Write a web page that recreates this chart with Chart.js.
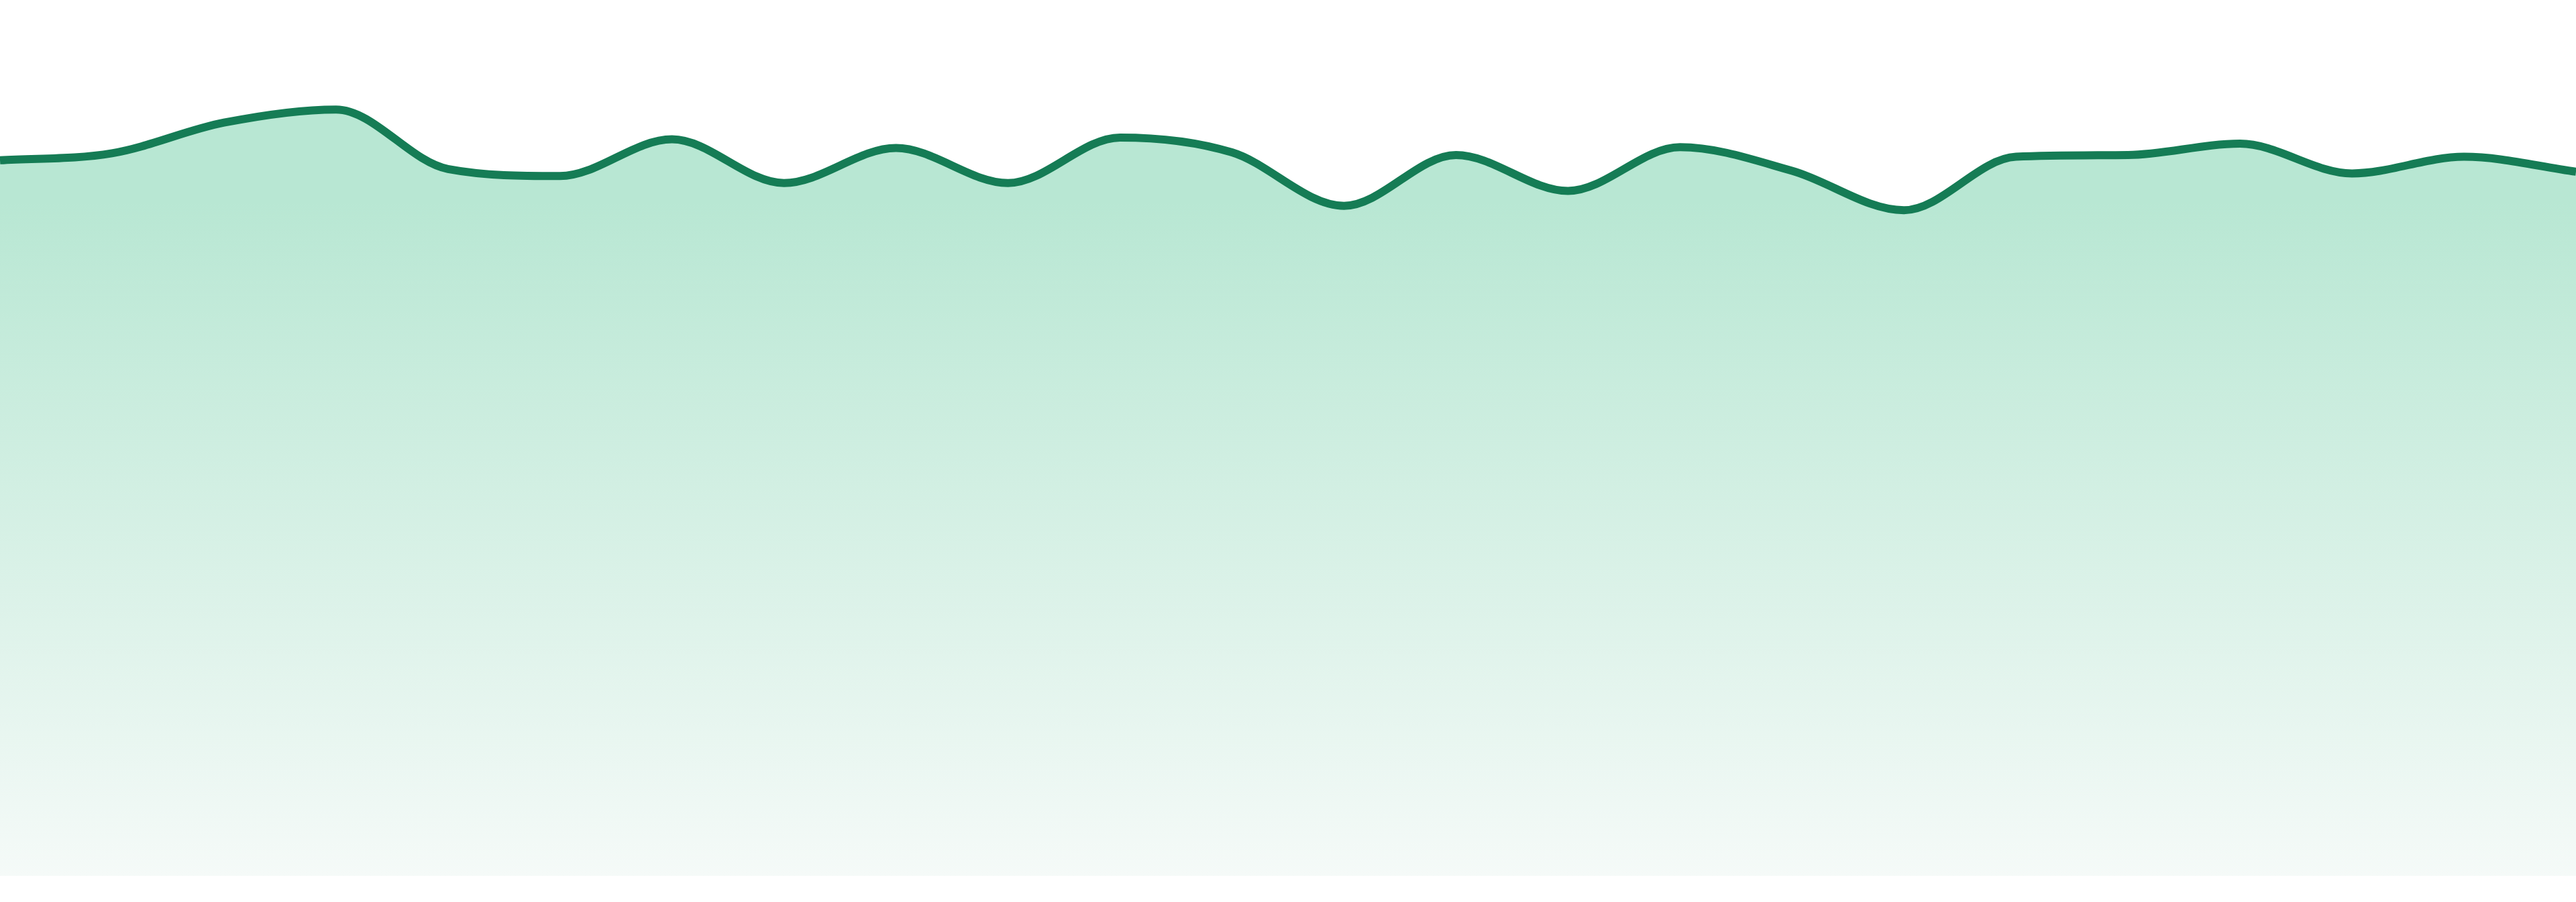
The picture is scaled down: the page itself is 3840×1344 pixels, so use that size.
<!DOCTYPE html>
<html>
<head>
<meta charset="utf-8">
<script src="https://cdn.jsdelivr.net/npm/chart.js@4/dist/chart.umd.min.js"></script>
<style>
    html, body { margin: 0; padding: 0; background: #ffffff; }
    #wrap { position: relative; width: 3840px; height: 1344px; }
</style>
</head>
<body>
<div id="wrap"><canvas id="areaChart"></canvas></div>
<script>
// 24 samples, no axes shown in the picture
const labels = ['1', '2', '3', '4', '5', '6', '7', '8', '9', '10', '11', '12',
                '13', '14', '15', '16', '17', '18', '19', '20', '21', '22', '23', '24'];
const values = [81.7, 82.5, 86.0, 87.5, 80.7, 79.9, 84.1, 79.1, 83.1, 79.1, 84.3, 82.6,
                76.5, 82.3, 78.2, 83.2, 80.5, 76.0, 82.1, 82.3, 83.6, 80.2, 82.1, 80.4];

const yMin = 0;
const yMax = 100;

function fillGradient(context) {
    const area = context.chart.chartArea;
    if (!area) return '#b8e7d3';
    const ctx = context.chart.ctx;
    // solid band under the line, fading towards the base
    const g = ctx.createLinearGradient(0, area.top + area.height * 0.23, 0, area.bottom);
    g.addColorStop(0, '#b8e7d3');
    g.addColorStop(1, '#f5faf8');
    return g;
}

new Chart(document.getElementById('areaChart').getContext('2d'), {
    type: 'line',
    data: {
        labels: labels,
        datasets: [{
            data: values,
            borderColor: '#157c55',
            borderWidth: 12,
            backgroundColor: fillGradient,
            fill: 'start',
            cubicInterpolationMode: 'monotone',
            pointRadius: 0,
            pointHoverRadius: 0
        }]
    },
    options: {
        responsive: true,
        maintainAspectRatio: false,
        animation: false,
        layout: { padding: { top: 0, right: 0, bottom: 39, left: 0 } },
        plugins: {
            legend: { display: false },
            tooltip: { enabled: false }
        },
        scales: {
            x: { display: false },
            y: { display: false, min: yMin, max: yMax }
        }
    }
});
</script>
</body>
</html>
